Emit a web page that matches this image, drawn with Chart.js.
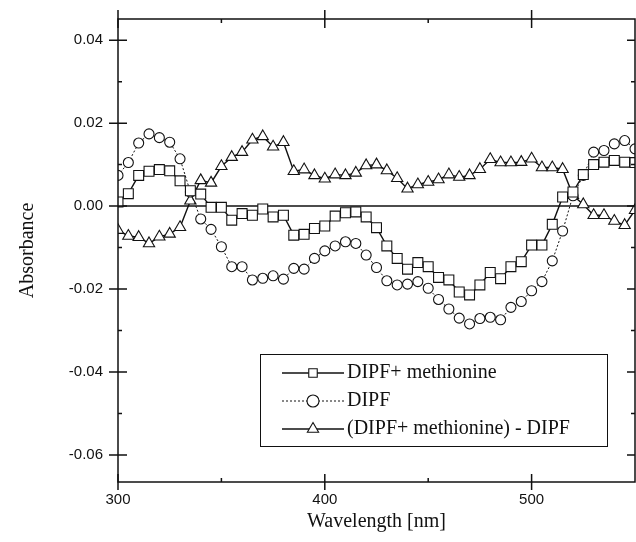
<!DOCTYPE html>
<html>
<head>
<meta charset="utf-8">
<script src="https://cdn.jsdelivr.net/npm/chart.js@4.4.1/dist/chart.umd.min.js"></script>
<style>
html, body { margin: 0; padding: 0; background: #fff; }
#wrap { width: 636px; height: 542px; }
</style>
</head>
<body>
<div id="wrap"><canvas id="absChart" width="636" height="542"></canvas></div>
<script>
// Wavelength (nm) of each measured point
const wavelengths = [
    300, 305, 310, 315, 320, 325, 330, 335, 340, 345,
    350, 355, 360, 365, 370, 375, 380, 385, 390, 395,
    400, 405, 410, 415, 420, 425, 430, 435, 440, 445,
    450, 455, 460, 465, 470, 475, 480, 485, 490, 495,
    500, 505, 510, 515, 520, 525, 530, 535, 540, 545, 550
];

// DIPF + methionine (squares)
const dipfMethionine = [
    0.0010, 0.0030, 0.0074, 0.0084, 0.0088, 0.0085, 0.0061, 0.0037, 0.0029, -0.0003,
    -0.0003, -0.0034, -0.0018, -0.0022, -0.0007, -0.0026, -0.0022, -0.0070, -0.0068, -0.0054,
    -0.0048, -0.0024, -0.0016, -0.0014, -0.0026, -0.0052, -0.0096, -0.0126, -0.0152, -0.0136,
    -0.0146, -0.0172, -0.0178, -0.0207, -0.0214, -0.0190, -0.0160, -0.0175, -0.0146, -0.0134,
    -0.0094, -0.0094, -0.0044, 0.0022, 0.0034, 0.0076, 0.0100, 0.0106, 0.0110, 0.0106, 0.0105
];

// DIPF (circles)
const dipf = [
    0.0074, 0.0105, 0.0152, 0.0174, 0.0165, 0.0154, 0.0114, 0.0034, -0.0031, -0.0056,
    -0.0098, -0.0146, -0.0146, -0.0178, -0.0174, -0.0168, -0.0176, -0.0150, -0.0152, -0.0126,
    -0.0108, -0.0096, -0.0086, -0.0090, -0.0118, -0.0148, -0.0180, -0.0190, -0.0188, -0.0182,
    -0.0198, -0.0225, -0.0248, -0.0270, -0.0284, -0.0271, -0.0268, -0.0274, -0.0244, -0.0230,
    -0.0204, -0.0182, -0.0132, -0.0060, 0.0025, 0.0074, 0.0130, 0.0134, 0.0150, 0.0158, 0.0138
];

// (DIPF + methionine) - DIPF (triangles)
const difference = [
    -0.0058, -0.0072, -0.0075, -0.0090, -0.0074, -0.0067, -0.0051, 0.0013, 0.0062, 0.0056,
    0.0096, 0.0118, 0.0130, 0.0160, 0.0168, 0.0143, 0.0154, 0.0084, 0.0088, 0.0074,
    0.0066, 0.0076, 0.0074, 0.0080, 0.0098, 0.0100, 0.0086, 0.0067, 0.0042, 0.0052,
    0.0058, 0.0064, 0.0076, 0.0070, 0.0074, 0.0089, 0.0113, 0.0105, 0.0105, 0.0106,
    0.0114, 0.0093, 0.0093, 0.0089, 0.0026, 0.0004, -0.0022, -0.0022, -0.0036, -0.0046, -0.0010
];

const seriesLabels = ['DIPF+ methionine', 'DIPF', '(DIPF+ methionine) - DIPF'];

// Axis ticks
const xMajorTicks = [300, 400, 500];
const xMinorTicks = [350, 450];
const yMajorTicks = [-0.06, -0.04, -0.02, 0.00, 0.02, 0.04];
const yMinorTicks = [-0.05, -0.03, -0.01, 0.01, 0.03];

const INK = '#111';

function toPoints(values) {
    return wavelengths.map((w, i) => ({ x: w, y: values[i] }));
}

// Dessine un marqueur (carré, cercle, triangle) pour la légende
function drawMarker(ctx, style, x, y, r) {
    ctx.beginPath();
    if (style === 'rect') {
        const s = r * Math.SQRT1_2;
        ctx.rect(x - s, y - s, 2 * s, 2 * s);
    } else if (style === 'circle') {
        ctx.arc(x, y, r, 0, Math.PI * 2);
    } else {
        ctx.moveTo(x, y - r);
        ctx.lineTo(x + r * Math.sin(Math.PI * 2 / 3), y - r * Math.cos(Math.PI * 2 / 3));
        ctx.lineTo(x - r * Math.sin(Math.PI * 2 / 3), y - r * Math.cos(Math.PI * 2 / 3));
        ctx.closePath();
    }
    ctx.fillStyle = '#fff';
    ctx.fill();
    ctx.stroke();
}

// Cadre, graduations, ligne du zéro et légende
const framePlugin = {
    id: 'frame',
    beforeDatasetsDraw(chart) {
        const { ctx, chartArea: a, scales: { y } } = chart;
        const y0 = y.getPixelForValue(0);
        ctx.save();
        ctx.strokeStyle = INK;
        ctx.lineWidth = 1.5;
        ctx.beginPath();
        ctx.moveTo(a.left, y0);
        ctx.lineTo(a.right, y0);
        ctx.stroke();
        ctx.restore();
    },
    afterDraw(chart) {
        const { ctx, chartArea: a, scales: { x, y } } = chart;
        ctx.save();
        ctx.strokeStyle = INK;
        ctx.lineWidth = 1.5;
        ctx.strokeRect(a.left, a.top, a.right - a.left, a.bottom - a.top);

        ctx.beginPath();
        xMajorTicks.forEach(v => {
            const px = x.getPixelForValue(v);
            ctx.moveTo(px, a.bottom - 8); ctx.lineTo(px, a.bottom + 8);
            ctx.moveTo(px, a.top - 9); ctx.lineTo(px, a.top + 9);
        });
        xMinorTicks.forEach(v => {
            const px = x.getPixelForValue(v);
            ctx.moveTo(px, a.bottom - 4); ctx.lineTo(px, a.bottom);
            ctx.moveTo(px, a.top); ctx.lineTo(px, a.top + 4);
        });
        yMajorTicks.forEach(v => {
            const py = y.getPixelForValue(v);
            ctx.moveTo(a.left - 9, py); ctx.lineTo(a.left + 9, py);
            ctx.moveTo(a.right - 8, py); ctx.lineTo(a.right, py);
        });
        yMinorTicks.forEach(v => {
            const py = y.getPixelForValue(v);
            ctx.moveTo(a.left, py); ctx.lineTo(a.left + 4, py);
            ctx.moveTo(a.right - 4, py); ctx.lineTo(a.right, py);
        });
        ctx.stroke();

        // Légende
        const box = { left: 260, top: 354, width: 347, height: 92 };
        ctx.fillStyle = '#fff';
        ctx.fillRect(box.left, box.top, box.width, box.height);
        ctx.lineWidth = 1;
        ctx.strokeRect(box.left + 0.5, box.top + 0.5, box.width, box.height);

        ctx.font = '20px "Liberation Serif", "Times New Roman", serif';
        ctx.textBaseline = 'middle';
        chart.data.datasets.forEach((ds, i) => {
            const rowY = box.top + 19 + i * 28;
            ctx.strokeStyle = INK;
            ctx.lineWidth = ds.borderWidth;
            ctx.setLineDash(ds.borderDash || []);
            ctx.beginPath();
            ctx.moveTo(box.left + 22, rowY);
            ctx.lineTo(box.left + 84, rowY);
            ctx.stroke();
            ctx.setLineDash([]);
            ctx.lineWidth = 1.1;
            drawMarker(ctx, ds.pointStyle, box.left + 53, rowY, ds.pointStyle === 'triangle' ? 6.5 : 6);
            ctx.fillStyle = INK;
            ctx.fillText(ds.label, box.left + 87, rowY);
        });
        ctx.restore();
    }
};

function makeDataset(label, values, style, radius, dash, width) {
    return {
        label: label,
        data: toPoints(values),
        pointStyle: style,
        pointRadius: radius,
        pointBorderWidth: 1.1,
        pointBackgroundColor: '#fff',
        pointBorderColor: INK,
        borderColor: INK,
        borderWidth: width,
        borderDash: dash,
        tension: 0,
        fill: false
    };
}

// Pas de marge automatique autour des étiquettes : la zone du graphique est fixée par la mise en page
function noLabelPadding(scale) {
    scale.paddingLeft = 0;
    scale.paddingRight = 0;
    scale.paddingTop = 0;
    scale.paddingBottom = 0;
}

const ctx = document.getElementById('absChart').getContext('2d');

new Chart(ctx, {
    type: 'line',
    data: {
        datasets: [
            makeDataset(seriesLabels[0], dipfMethionine, 'rect', 7, [], 1.4),
            makeDataset(seriesLabels[1], dipf, 'circle', 5, [2, 2], 1),
            makeDataset(seriesLabels[2], difference, 'triangle', 6.5, [], 1.4)
        ]
    },
    options: {
        responsive: false,
        animation: false,
        layout: { autoPadding: false, padding: { top: 19, right: 1, left: 0, bottom: 0 } },
        plugins: {
            legend: { display: false },
            tooltip: { enabled: false }
        },
        scales: {
            x: {
                type: 'linear',
                min: 300,
                max: 550,
                afterFit: scale => { scale.height = 60; noLabelPadding(scale); },
                afterBuildTicks: scale => { scale.ticks = xMajorTicks.map(v => ({ value: v })); },
                grid: { display: false, drawTicks: false },
                border: { display: false },
                ticks: {
                    padding: 9,
                    color: INK,
                    font: { family: '"Liberation Sans", Arial, sans-serif', size: 15 },
                    callback: v => String(v)
                },
                title: {
                    display: true,
                    text: 'Wavelength [nm]',
                    color: INK,
                    padding: { top: 0, bottom: 8 },
                    font: { family: '"Liberation Serif", "Times New Roman", serif', size: 20 }
                }
            },
            y: {
                min: -0.0665,
                max: 0.0451,
                afterFit: scale => { scale.width = 118; noLabelPadding(scale); },
                afterBuildTicks: scale => { scale.ticks = yMajorTicks.map(v => ({ value: v })); },
                grid: { display: false, drawTicks: false },
                border: { display: false },
                ticks: {
                    padding: 15,
                    color: INK,
                    font: { family: '"Liberation Sans", Arial, sans-serif', size: 15 },
                    callback: v => v.toFixed(2)
                },
                title: {
                    display: true,
                    text: 'Absorbance',
                    color: INK,
                    padding: { top: 16, bottom: 0 },
                    font: { family: '"Liberation Serif", "Times New Roman", serif', size: 20 }
                }
            }
        }
    },
    plugins: [framePlugin]
});
</script>
</body>
</html>
